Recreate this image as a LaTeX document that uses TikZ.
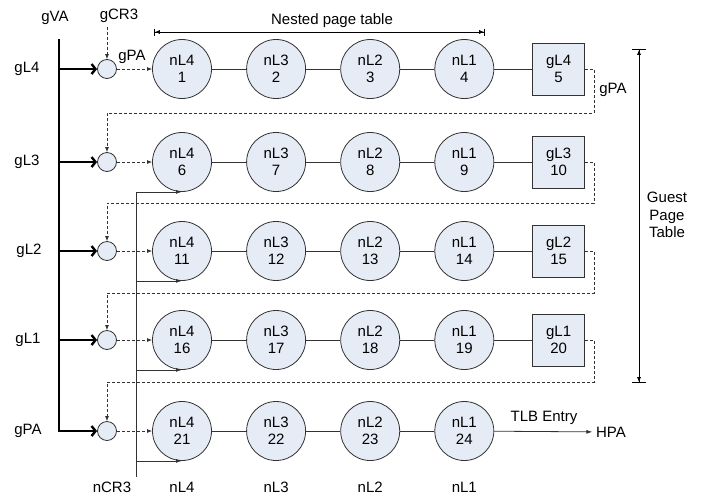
\documentclass[tikz,border=0pt]{standalone}
\usepackage{fontspec}
\setmainfont{Liberation Sans}
\usetikzlibrary{positioning,arrows.meta}
\definecolor{nodefill}{RGB}{230,236,246}
\definecolor{linegray}{RGB}{50,50,50}

\tikzset{
  nest/.style={draw=linegray, circle, fill=nodefill, minimum size=59pt, inner sep=0pt, align=center},
  guest/.style={draw=linegray, rectangle, fill=nodefill, minimum size=52pt, inner sep=0pt, align=center},
  sel/.style={draw=linegray, circle, fill=nodefill, minimum size=19pt, inner sep=0pt},
  dasharrow/.style={draw=linegray, dash pattern=on 3pt off 2pt, -{Latex[length=5pt,width=4pt]}},
  thickarrow/.style={line width=2.4pt, -{Straight Barb[length=4pt,width=10pt]}},
  ncrarrow/.style={draw=linegray, -{Latex[length=6pt,width=4pt]}},
  span/.style={{Bar[width=#1]Latex[length=5pt,width=4pt]}-{Latex[length=5pt,width=4pt]Bar[width=#1]}}
}

\begin{document}
\begin{tikzpicture}[x=1pt, y=-1pt, node distance=34.3pt, font=\fontsize{15}{17.3}\selectfont, line width=0.8pt]
    \useasboundingbox (0,0) rectangle (701,496);

    % Row 1: gL4
    \node [nest] (n1) at (182,69) {nL4\\1};
    \node [nest, right=of n1] (n2) {nL3\\2};
    \node [nest, right=of n2] (n3) {nL2\\3};
    \node [nest, right=of n3] (n4) {nL1\\4};
    \node [guest, right=38pt of n4] (b5) {gL4\\5};

    % Row 2: gL3
    \node [nest] (n6) at (182,162) {nL4\\6};
    \node [nest, right=of n6] (n7) {nL3\\7};
    \node [nest, right=of n7] (n8) {nL2\\8};
    \node [nest, right=of n8] (n9) {nL1\\9};
    \node [guest, right=38pt of n9] (b10) {gL3\\10};

    % Row 3: gL2
    \node [nest] (n11) at (182,251) {nL4\\11};
    \node [nest, right=of n11] (n12) {nL3\\12};
    \node [nest, right=of n12] (n13) {nL2\\13};
    \node [nest, right=of n13] (n14) {nL1\\14};
    \node [guest, right=38pt of n14] (b15) {gL2\\15};

    % Row 4: gL1
    \node [nest] (n16) at (182,340) {nL4\\16};
    \node [nest, right=of n16] (n17) {nL3\\17};
    \node [nest, right=of n17] (n18) {nL2\\18};
    \node [nest, right=of n18] (n19) {nL1\\19};
    \node [guest, right=38pt of n19] (b20) {gL1\\20};

    % Row 5: gPA
    \node [nest] (n21) at (182,431) {nL4\\21};
    \node [nest, right=of n21] (n22) {nL3\\22};
    \node [nest, right=of n22] (n23) {nL2\\23};
    \node [nest, right=of n23] (n24) {nL1\\24};

    % Small selector circles
    \node [sel] (s1) at (107,69) {};
    \node [sel] (s2) at (107,162) {};
    \node [sel] (s3) at (107,251) {};
    \node [sel] (s4) at (107,340) {};
    \node [sel] (s5) at (107,431) {};

    % Labels on the left
    \node (gva) at (55,18) {gVA};
    \node (gcr3) at (119,16) {gCR3};
    \node (gpa1) at (132,57) {gPA};
    \node (rl1) at (27,69) {gL4};
    \node (rl2) at (27,162) {gL3};
    \node (rl3) at (29,251) {gL2};
    \node (rl4) at (28,340) {gL1};
    \node (rl5) at (28,431) {gPA};

    % Labels at the bottom
    \node (ncr3) at (112,487) {nCR3};
    \node (cl4) at (n21 |- ncr3) {nL4};
    \node (cl3) at (n22 |- ncr3) {nL3};
    \node (cl2) at (n23 |- ncr3) {nL2};
    \node (cl1) at (n24 |- ncr3) {nL1};

    % Labels on the right
    \node (npt) at (332,21) {Nested page table};
    \node (gpa2) at (613,90) {gPA};
    \node [align=center] (gpt) at (667,215) {Guest\\Page\\Table};
    \node (tlb) at (544,418) {TLB Entry};
    \node (hpa) at (611,432) {HPA};

    % Row chains
    \draw [linegray] (n1) -- (n2) -- (n3) -- (n4) -- (b5);
    \draw [linegray] (n6) -- (n7) -- (n8) -- (n9) -- (b10);
    \draw [linegray] (n11) -- (n12) -- (n13) -- (n14) -- (b15);
    \draw [linegray] (n16) -- (n17) -- (n18) -- (n19) -- (b20);
    \draw [linegray] (n21) -- (n22) -- (n23) -- (n24);
    \draw [ncrarrow] (n24) -- (hpa);

    % gVA bus with thick arrows
    \coordinate (vtop) at (59,39);
    \draw [thickarrow] (vtop) |- (s5.west);
    \draw [thickarrow] (s1 -| vtop) -- (s1.west);
    \draw [thickarrow] (s2 -| vtop) -- (s2.west);
    \draw [thickarrow] (s3 -| vtop) -- (s3.west);
    \draw [thickarrow] (s4 -| vtop) -- (s4.west);

    % gPA into the nested walk
    \draw [dasharrow] (gcr3.south -| s1.north) -- (s1.north);
    \draw [dasharrow] (s1) -- (n1);
    \draw [dasharrow] (s2) -- (n6);
    \draw [dasharrow] (s3) -- (n11);
    \draw [dasharrow] (s4) -- (n16);
    \draw [dasharrow] (s5) -- (n21);

    % Dashed returns from guest entries
    \coordinate (r1) at (594,113);
    \coordinate (r2) at (594,203);
    \coordinate (r3) at (594,293);
    \coordinate (r4) at (594,382);
    \draw [dasharrow] (b5.east) -| (r1) -| (s2.north);
    \draw [dasharrow] (b10.east) -| (r2) -| (s3.north);
    \draw [dasharrow] (b15.east) -| (r3) -| (s4.north);
    \draw [dasharrow] (b20.east) -| (r4) -| (s5.north);

    % nCR3 line
    \coordinate (ncrbot) at (136,477);
    \draw [linegray] (n6.south -| ncrbot) -- (ncrbot);
    \draw [ncrarrow] (n6.south -| ncrbot) -- (n6.south);
    \draw [ncrarrow] (n11.south -| ncrbot) -- (n11.south);
    \draw [ncrarrow] (n16.south -| ncrbot) -- (n16.south);
    \draw [ncrarrow] (n21.south -| ncrbot) -- (n21.south);

    % Span markers
    \coordinate (npl) at (154,32);
    \coordinate (npr) at (485,32);
    \draw [span=7pt] (npl) -- (npr);
    \coordinate (gtop) at (639,49);
    \coordinate (gbot) at (639,383);
    \draw [span=14pt] (gtop) -- (gbot);
\end{tikzpicture}
\end{document}
